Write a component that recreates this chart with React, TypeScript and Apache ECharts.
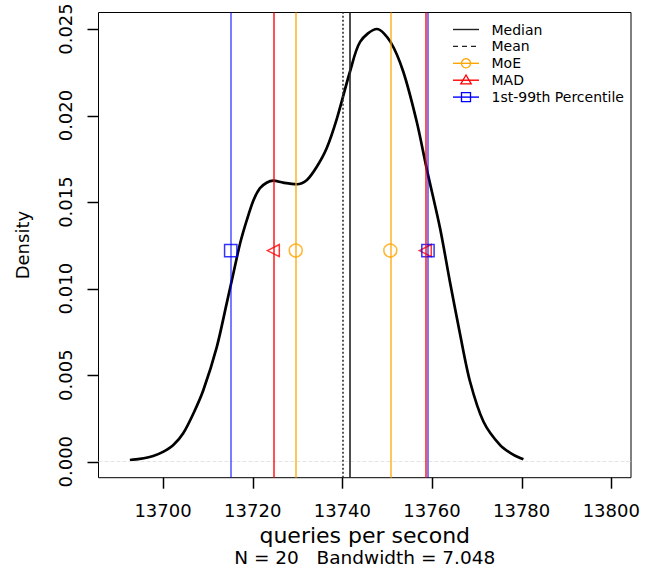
import React, { useEffect, useRef } from 'react';
import * as echarts from 'echarts';

const xTicks = [13700, 13720, 13740, 13760, 13780, 13800];
const yTicks = [0, 0.005, 0.01, 0.015, 0.02, 0.025];

const densityX = [13692.6, 13694.8, 13697.8, 13700.1, 13702.3, 13704.5, 13706.8, 13709.0, 13712.0, 13714.2, 13715.7, 13717.2, 13718.7, 13720.2, 13721.6, 13723.1, 13724.6, 13726.8, 13729.8, 13732.1, 13734.3, 13736.5, 13738.8, 13741.7, 13744.0, 13747.7, 13750.7, 13753.6, 13756.6, 13758.8, 13761.8, 13764.0, 13766.3, 13768.5, 13771.5, 13775.2, 13778.2, 13780.4];
const densityY = [0.0001, 0.00016, 0.00033, 0.00058, 0.00096, 0.00164, 0.0028, 0.00414, 0.00664, 0.00915, 0.01089, 0.01262, 0.01397, 0.01512, 0.0158, 0.01612, 0.01624, 0.01612, 0.01603, 0.01628, 0.01704, 0.01811, 0.01984, 0.02253, 0.02427, 0.025, 0.02427, 0.02253, 0.01964, 0.01695, 0.01349, 0.0104, 0.00732, 0.00462, 0.00231, 0.00096, 0.00039, 0.00014];

const medianValue = 13741.6;
const meanValue = 13740.2;
const moeValues = [13729.6, 13750.7];
const madValues = [13724.6, 13758.5];
const pctValues = [13715.1, 13759.1];
const markerLevel = 0.0122;

const legendLabels = ['Median', 'Mean', 'MoE', 'MAD', '1st-99th Percentile'];

const X_MIN = 13685.6, X_MAX = 13804.4;
const Y_MIN = -0.000924, Y_MAX = 0.025954;

const FONT = 'DejaVu Sans';
const ORANGE = 'rgba(255,165,0,0.8)';
const RED = 'rgba(255,0,0,0.85)';
const BLUE = 'rgba(0,0,255,0.65)';
const TICK = 11;

export default function App() {
  const ref = useRef<HTMLDivElement>(null);
  useEffect(() => {
    if (!ref.current) return;
    const chart = echarts.init(ref.current, undefined, { renderer: 'svg' });
    const vline = (vals: number[], color: string, type: any, width: number) => ({
      silent: true,
      symbol: ['none', 'none'],
      label: { show: false },
      lineStyle: { color, type, width },
      data: vals.map((v) => ({ xAxis: v })),
    });
    const rows = legendLabels.map((_, i) => 29.5 + i * 16.9);
    const lx0 = 453, lx1 = 479, lxc = 466;
    const graphic: any[] = [];
    const legColors = ['#222', '#222', 'orange', 'red', 'blue'];
    legendLabels.forEach((lab, i) => {
      graphic.push({
        type: 'line', shape: { x1: lx0, y1: rows[i], x2: lx1, y2: rows[i] },
        style: { stroke: legColors[i], lineWidth: 1.4, lineDash: i === 1 ? [5, 4] : null },
      });
      graphic.push({
        type: 'text', x: 491.5, y: rows[i],
        style: { text: lab, font: `14px "${FONT}"`, fill: '#000', textVerticalAlign: 'middle', textAlign: 'left' },
      });
    });
    graphic.push({ type: 'circle', shape: { cx: lxc, cy: rows[2], r: 4.6 }, style: { fill: 'none', stroke: 'orange', lineWidth: 1.3 } });
    graphic.push({ type: 'polygon', shape: { points: [[lxc, rows[3] - 5.2], [lxc - 5.2, rows[3] + 3.6], [lxc + 5.2, rows[3] + 3.6]] }, style: { fill: 'none', stroke: 'red', lineWidth: 1.3 } });
    graphic.push({ type: 'rect', shape: { x: lxc - 4.5, y: rows[4] - 4.5, width: 9, height: 9 }, style: { fill: 'none', stroke: 'blue', lineWidth: 1.3 } });
    graphic.push({
      type: 'text', x: 364.75, y: 557,
      style: { text: 'N = 20   Bandwidth = 7.048', font: `18.5px "${FONT}"`, fill: '#000', textAlign: 'center', textVerticalAlign: 'middle' },
    });

    chart.setOption({
      animation: false,
      backgroundColor: '#fff',
      textStyle: { fontFamily: FONT },
      grid: { left: 98.5, right: 25, top: 12.5, bottom: 92.3, show: true, borderColor: '#000', borderWidth: 1, backgroundColor: 'transparent' },
      xAxis: {
        type: 'value', min: X_MIN, max: X_MAX,
        name: 'queries per second', nameLocation: 'middle', nameGap: 40,
        nameTextStyle: { fontSize: 22, color: '#000', fontFamily: FONT },
        axisLine: { show: false, onZero: false },
        splitLine: { show: false },
        axisTick: { show: false },
        axisLabel: { customValues: xTicks, fontSize: 18, color: '#000', margin: 24, fontFamily: FONT, formatter: (v: number) => String(v) },
      },
      yAxis: {
        type: 'value', min: Y_MIN, max: Y_MAX,
        name: 'Density', nameLocation: 'middle', nameGap: 67,
        nameTextStyle: { fontSize: 18, color: '#000', fontFamily: FONT },
        axisLine: { show: false, onZero: false },
        splitLine: { show: false },
        axisTick: { show: false },
        axisLabel: { customValues: yTicks, rotate: 90, fontSize: 18, color: '#000', margin: 24, fontFamily: FONT, formatter: (v: number) => v.toFixed(3) },
      },
      graphic,
      series: [
        {
          type: 'custom', clip: false, silent: true, z: 10,
          data: xTicks.map((v) => [v, Y_MIN]),
          renderItem: (_p: any, api: any) => {
            const p = api.coord([api.value(0), api.value(1)]);
            const x = Math.round(p[0]) + 0.5;
            return { type: 'line', shape: { x1: x, y1: p[1], x2: x, y2: p[1] + TICK }, style: { stroke: '#000', lineWidth: 1.5 } };
          },
        },
        {
          type: 'custom', clip: false, silent: true, z: 10,
          data: yTicks.map((v) => [X_MIN, v]),
          renderItem: (_p: any, api: any) => {
            const p = api.coord([api.value(0), api.value(1)]);
            const y = Math.round(p[1]) + 0.5;
            return { type: 'line', shape: { x1: p[0] - TICK, y1: y, x2: p[0], y2: y }, style: { stroke: '#000', lineWidth: 1.5 } };
          },
        },
        {
          type: 'line', z: 2, smooth: 0.3, symbol: 'none',
          data: densityX.map((x, i) => [x, densityY[i]]),
          lineStyle: { color: '#000', width: 2.7 },
          markLine: { ...vline([], '#ddd', 'solid', 1), data: [{ yAxis: 0 }], lineStyle: { color: '#e4e4e4', width: 1 } },
        },
        { type: 'line', z: 3, data: [], markLine: vline([medianValue], '#222', 'solid', 1.6) },
        { type: 'line', z: 3, data: [], markLine: vline([meanValue], '#333', [2, 2], 1.6) },
        {
          type: 'scatter', z: 4, symbol: 'circle', symbolSize: 13,
          data: moeValues.map((v) => [v, markerLevel]),
          itemStyle: { color: 'transparent', borderColor: 'orange', borderWidth: 1.5 },
          markLine: vline(moeValues, ORANGE, 'solid', 1.6),
        },
        {
          type: 'scatter', z: 4, symbol: 'triangle', symbolSize: 12, symbolRotate: 90,
          data: madValues.map((v) => [v, markerLevel]),
          itemStyle: { color: 'transparent', borderColor: 'red', borderWidth: 1.5 },
          markLine: vline(madValues, RED, 'solid', 1.6),
        },
        {
          type: 'scatter', z: 4, symbol: 'rect', symbolSize: 12.3,
          data: pctValues.map((v) => [v, markerLevel]),
          itemStyle: { color: 'transparent', borderColor: 'blue', borderWidth: 1.5 },
          markLine: vline(pctValues, BLUE, 'solid', 1.6),
        },
      ],
    });
    return () => chart.dispose();
  }, []);
  return <div ref={ref} style={{ position: 'fixed', left: 0, top: 0, width: 656, height: 570, background: '#fff' }} />;
}
